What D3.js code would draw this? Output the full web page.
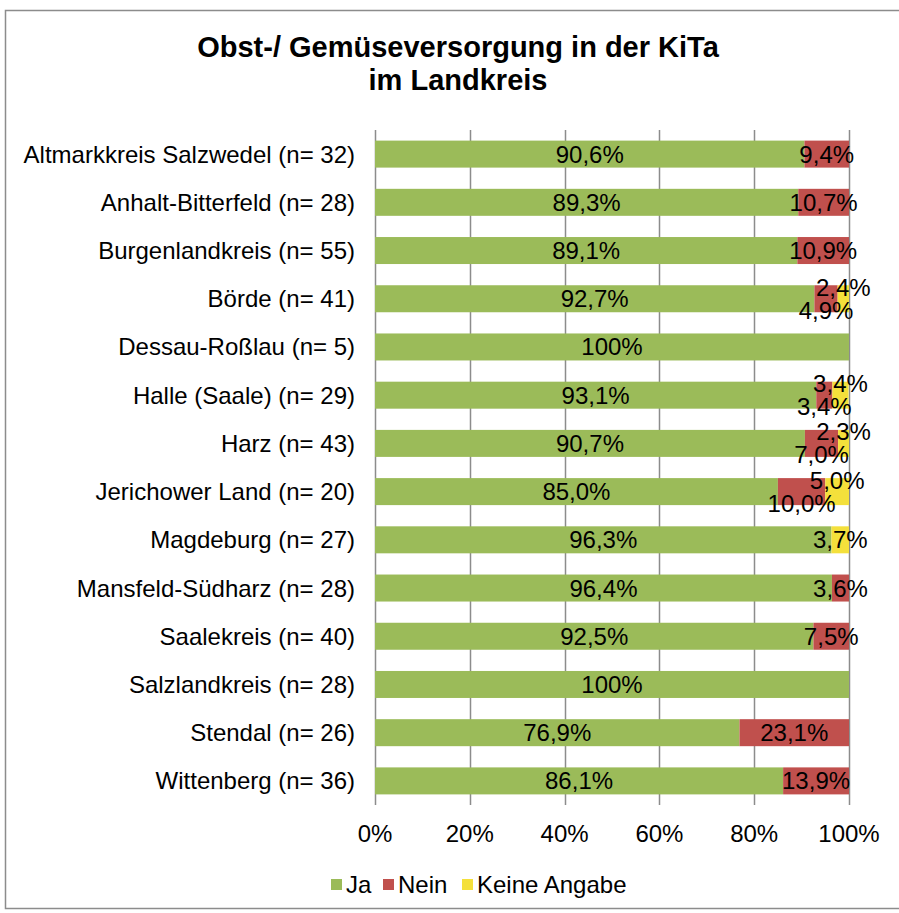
<!DOCTYPE html>
<html>
<head>
<meta charset="utf-8">
<script src="https://cdn.jsdelivr.net/npm/d3@7"></script>
<style>
    body { margin: 0; background: #fff; }
    svg text { font-family: "Liberation Sans", Arial, sans-serif; fill: #000; }
</style>
</head>
<body>
<div id="chart"></div>
<script>
"use strict";
const WIDTH = 899;
const HEIGHT = 913;
const X0 = 375;
const X1 = 849;
const PLOT_TOP = 130;
const PLOT_BOTTOM = 805;
const FONT_SIZE = 24;

const categories = [
    "Altmarkkreis Salzwedel (n= 32)",
    "Anhalt-Bitterfeld (n= 28)",
    "Burgenlandkreis (n= 55)",
    "Börde (n= 41)",
    "Dessau-Roßlau (n= 5)",
    "Halle (Saale) (n= 29)",
    "Harz (n= 43)",
    "Jerichower Land (n= 20)",
    "Magdeburg (n= 27)",
    "Mansfeld-Südharz (n= 28)",
    "Saalekreis (n= 40)",
    "Salzlandkreis (n= 28)",
    "Stendal (n= 26)",
    "Wittenberg (n= 36)"];

const ja = [90.6, 89.3, 89.1, 92.7, 100, 93.1, 90.7, 85.0, 96.3, 96.4, 92.5, 100, 76.9, 86.1];
const nein = [9.4, 10.7, 10.9, 4.9, 0, 3.4, 7.0, 10.0, 0, 3.6, 7.5, 0, 23.1, 13.9];
const keine = [0, 0, 0, 2.4, 0, 3.4, 2.3, 5.0, 3.7, 0, 0, 0, 0, 0];

const seriesNames = ["Ja", "Nein", "Keine Angabe"];
const colors = ["#9BBB59", "#C0504D", "#F4E03B"];
const xTicks = [0, 20, 40, 60, 80, 100];

const rows = categories.map(function (c, i) {
    return { name: c, Ja: ja[i], Nein: nein[i], "Keine Angabe": keine[i] };
});

const stack = d3.stack().keys(seriesNames)(rows);

const x = d3.scaleLinear().domain([0, 100]).range([X0, X1]);
const y = d3.scaleBand().domain(categories).range([PLOT_TOP, PLOT_BOTTOM]).paddingInner(0.44).paddingOuter(0.22);

const svg = d3.select("#chart").append("svg")
    .attr("width", WIDTH)
    .attr("height", HEIGHT);

svg.append("rect")
    .attr("x", 5.5).attr("y", 10.5)
    .attr("width", 900).attr("height", 898)
    .attr("fill", "#fff")
    .attr("stroke", "#8c8c8c")
    .attr("stroke-width", 1.5);

svg.append("text")
    .attr("x", 458).attr("y", 57)
    .attr("text-anchor", "middle")
    .style("font-size", "29px")
    .style("font-weight", "bold")
    .text("Obst-/ Gemüseversorgung in der KiTa");
svg.append("text")
    .attr("x", 458).attr("y", 90)
    .attr("text-anchor", "middle")
    .style("font-size", "29px")
    .style("font-weight", "bold")
    .text("im Landkreis");

// grid lines + ticks
svg.append("g")
    .selectAll("line")
    .data(xTicks)
    .enter()
    .append("line")
    .attr("x1", function (d) { return Math.round(x(d)) + 0.5; })
    .attr("x2", function (d) { return Math.round(x(d)) + 0.5; })
    .attr("y1", PLOT_TOP)
    .attr("y2", PLOT_BOTTOM)
    .attr("stroke", "#8c8c8c")
    .attr("stroke-width", 1.5);

svg.append("g")
    .selectAll("text")
    .data(xTicks)
    .enter()
    .append("text")
    .attr("x", function (d) { return x(d); })
    .attr("y", 842)
    .attr("text-anchor", "middle")
    .style("font-size", FONT_SIZE + "px")
    .text(function (d) { return d + "%"; });

// category labels
svg.append("g")
    .selectAll("text")
    .data(categories)
    .enter()
    .append("text")
    .attr("x", 355)
    .attr("y", function (d) { return y(d) + y.bandwidth() / 2 + 8.5; })
    .attr("text-anchor", "end")
    .style("font-size", FONT_SIZE + "px")
    .text(function (d) { return d; });

// bars
const layers = svg.append("g")
    .selectAll("g")
    .data(stack)
    .enter()
    .append("g")
    .attr("fill", function (d, i) { return colors[i]; });

layers.selectAll("rect")
    .data(function (d) { return d; })
    .enter()
    .append("rect")
    .attr("x", function (d) { return x(d[0]); })
    .attr("width", function (d) { return x(d[1]) - x(d[0]); })
    .attr("y", function (d) { return y(d.data.name); })
    .attr("height", y.bandwidth());

function fmt(v) {
    return v === 100 ? "100%" : v.toFixed(1).replace(".", ",") + "%";
}

// value labels
const labels = [];
stack.forEach(function (layer, si) {
    layer.forEach(function (d) {
        const v = d[1] - d[0];
        if (v <= 0.001) return;
        const both = d.data.Nein > 0 && d.data["Keine Angabe"] > 0;
        let dy = 0;
        if (both && si === 1) dy = 11.5;
        if (both && si === 2) dy = -11.5;
        labels.push({
            x: x((d[0] + d[1]) / 2),
            y: y(d.data.name) + y.bandwidth() / 2 + 8.5 + dy,
            text: fmt(Math.round(v * 10) / 10)
        });
    });
});

svg.append("g")
    .selectAll("text")
    .data(labels)
    .enter()
    .append("text")
    .attr("x", function (d) { return d.x; })
    .attr("y", function (d) { return d.y; })
    .attr("text-anchor", "middle")
    .style("font-size", FONT_SIZE + "px")
    .text(function (d) { return d.text; });

// legend
const legendX = [331, 383, 462];
const legend = svg.append("g")
    .selectAll("g")
    .data(seriesNames)
    .enter()
    .append("g")
    .attr("transform", function (d, i) { return "translate(" + legendX[i] + ",879)"; });
legend.append("rect")
    .attr("width", 11).attr("height", 11)
    .attr("fill", function (d, i) { return colors[i]; });
legend.append("text")
    .attr("x", 15).attr("y", 14)
    .style("font-size", FONT_SIZE + "px")
    .text(function (d) { return d; });
</script>
</body>
</html>
